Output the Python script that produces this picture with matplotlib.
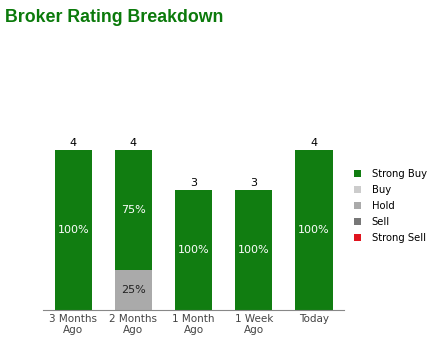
import matplotlib.pyplot as plt
from matplotlib.patches import Patch

categories = ["3 Months\nAgo", "2 Months\nAgo", "1 Month\nAgo", "1 Week\nAgo", "Today"]
ratings = ["Strong Buy", "Buy", "Hold", "Sell", "Strong Sell"]
colors = ["#117d11", "#cccccc", "#aaaaaa", "#777777", "#e0141e"]

strong_buy = [4, 3, 3, 3, 4]
buy = [0, 0, 0, 0, 0]
hold = [0, 1, 0, 0, 0]
sell = [0, 0, 0, 0, 0]
strong_sell = [0, 0, 0, 0, 0]

series = [strong_buy, buy, hold, sell, strong_sell]
totals = [sum(v) for v in zip(*series)]

fig = plt.figure(figsize=(4.35, 3.48), dpi=100)
ax = fig.add_axes([0.099, 0.109, 0.692, 0.575])

x = range(len(categories))
bottoms = [0] * len(categories)
# stack from strong sell at the bottom up to strong buy
for name, vals, col in reversed(list(zip(ratings, series, colors))):
    ax.bar(x, vals, width=0.62, bottom=bottoms, color=col, label=name)
    for i, v in enumerate(vals):
        if v > 0:
            pct = "%d%%" % round(100 * v / totals[i])
            txt_col = "white" if name == "Strong Buy" else "#222222"
            ax.text(i, bottoms[i] + v / 2, pct, ha="center", va="center",
                    color=txt_col, fontsize=8)
    bottoms = [b + v for b, v in zip(bottoms, vals)]

# totals above bars
for i, t in enumerate(totals):
    ax.text(i, t + 0.05, str(t), ha="center", va="bottom", fontsize=8, color="black")

ax.set_xlim(-0.5, 4.5)
ax.set_ylim(0, 5)
ax.set_xticks(list(x))
ax.set_xticklabels(categories, fontsize=7.5, color="#444444", linespacing=1.05)
ax.tick_params(axis="x", length=0, pad=3)
ax.set_yticks([])
for s in ["top", "right", "left"]:
    ax.spines[s].set_visible(False)
ax.spines["bottom"].set_color("#888888")

handles = [Patch(facecolor=c, edgecolor="none") for c in colors]
fig.legend(handles, ratings, loc="upper left", bbox_to_anchor=(0.792, 0.54),
           frameon=False, fontsize=7.2, handlelength=0.7, handleheight=0.7,
           handletextpad=1.1, labelspacing=0.6)

fig.text(0.012, 0.975, "Broker Rating Breakdown", family="Liberation Sans",
         fontweight="bold", fontsize=12.8, color="#0b7a0b", va="top")

fig.savefig("out.png", dpi=100)
